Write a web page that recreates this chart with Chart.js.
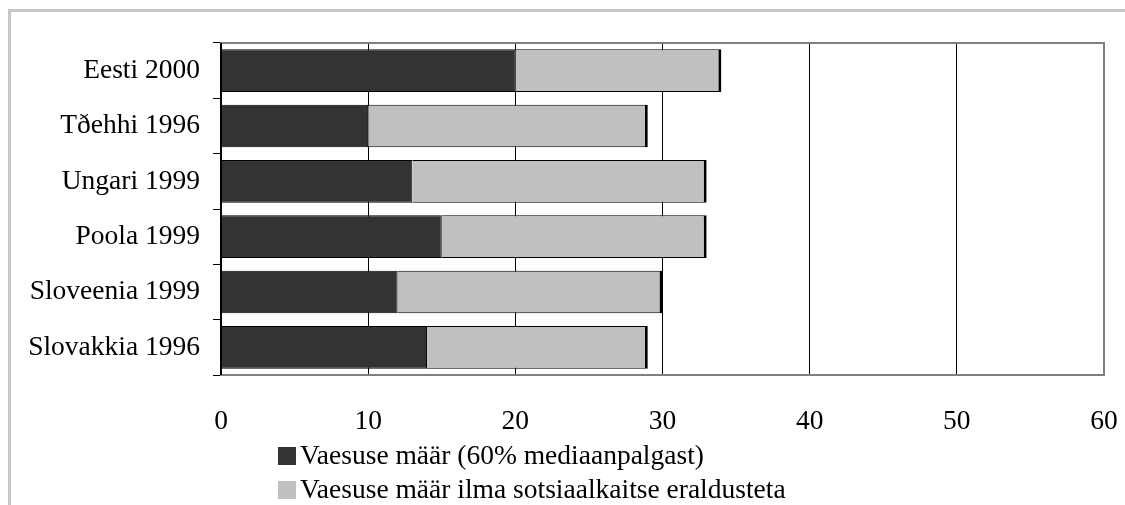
<!DOCTYPE html>
<html>
<head>
<meta charset="utf-8">
<script src="https://cdn.jsdelivr.net/npm/chart.js@4/dist/chart.umd.min.js"></script>
<style>
  html, body { margin: 0; padding: 0; background: #fff; }
  #wrap { position: relative; width: 1125px; height: 505px; overflow: hidden; }
  #frame { position: absolute; left: 8px; top: 9px; width: 1200px; height: 600px;
           border-left: 3px solid #c6c6c6; border-top: 3px solid #c6c6c6; }
  #chart { position: absolute; left: 0; top: 0; }
  .leg { position: absolute; left: 278px; font-family: 'Liberation Serif', 'Times New Roman', serif;
         font-size: 27.5px; color: #000; white-space: nowrap; line-height: 28px; }
  .leg i { display: inline-block; width: 18px; height: 18px; vertical-align: -1px; margin-right: 4px; }
</style>
</head>
<body>
<div id="wrap">
  <div id="frame"></div>
  <canvas id="chart" width="1125" height="505"></canvas>
  <div class="leg" style="top:441px"><i style="background:#333333"></i>Vaesuse määr (60% mediaanpalgast)</div>
  <div class="leg" style="top:475px"><i style="background:#c0c0c0"></i>Vaesuse määr ilma sotsiaalkaitse eraldusteta</div>
</div>
<script>
const categories = ['Eesti 2000', 'Tðehhi 1996', 'Ungari 1999', 'Poola 1999', 'Sloveenia 1999', 'Slovakkia 1996'];
const povertyRate = [20, 10, 13, 15, 12, 14];
const extraWithoutTransfers = [14, 19, 20, 18, 18, 15];
const xTicks = [0, 10, 20, 30, 40, 50, 60];

const seriesNames = ['Vaesuse määr (60% mediaanpalgast)', 'Vaesuse määr ilma sotsiaalkaitse eraldusteta'];
const FONT = "'Liberation Serif', 'Times New Roman', serif";

// Gray frame around the plot area, with the black category axis on the left
const plotFrame = {
  id: 'plotFrame',
  beforeDatasetsDraw(chart) {
    const { ctx, chartArea: a } = chart;
    ctx.save();
    ctx.strokeStyle = '#808080';
    ctx.lineWidth = 2;
    ctx.strokeRect(a.left, a.top, a.right - a.left, a.bottom - a.top);
    ctx.restore();
  },
  afterDatasetsDraw(chart) {
    const { ctx, chartArea: a } = chart;
    ctx.save();
    ctx.strokeStyle = '#000';
    ctx.lineWidth = 2;
    ctx.beginPath();
    ctx.moveTo(a.left, a.top);
    ctx.lineTo(a.left, a.bottom);
    ctx.stroke();
    ctx.restore();
  }
};

new Chart(document.getElementById('chart'), {
  type: 'bar',
  data: {
    labels: categories,
    datasets: [
      {
        label: seriesNames[0],
        data: povertyRate,
        backgroundColor: '#333333',
        borderColor: '#000',
        borderWidth: { top: 1, bottom: 1, left: 0, right: 1 },
        borderSkipped: false,
        categoryPercentage: 1,
        barPercentage: 0.77
      },
      {
        label: seriesNames[1],
        data: extraWithoutTransfers,
        backgroundColor: '#c0c0c0',
        borderColor: '#000',
        borderWidth: { top: 1, bottom: 1, left: 0, right: 3 },
        borderSkipped: false,
        categoryPercentage: 1,
        barPercentage: 0.77
      }
    ]
  },
  options: {
    indexAxis: 'y',
    responsive: false,
    animation: false,
    layout: { padding: { left: 0, right: 21, top: 43, bottom: 0 } },
    plugins: { legend: { display: false }, tooltip: { enabled: false } },
    scales: {
      x: {
        stacked: true,
        min: xTicks[0],
        max: xTicks[xTicks.length - 1],
        afterBuildTicks(scale) { scale.ticks = xTicks.map(v => ({ value: v })); },
        afterFit(scale) {
          scale.height = 130;
          scale.paddingLeft = 0;
          scale.paddingRight = 0;
        },
        grid: {
          color: ctx => (ctx.tick && (ctx.tick.value === 0 || ctx.tick.value === 60)) ? 'rgba(0,0,0,0)' : '#000',
          lineWidth: 1,
          drawTicks: false
        },
        border: { display: false },
        ticks: {
          padding: 30,
          color: '#000',
          font: { family: FONT, size: 27.5 },
          maxRotation: 0
        }
      },
      y: {
        stacked: true,
        afterFit(scale) {
          scale.width = 221;
          scale.paddingTop = 0;
          scale.paddingBottom = 0;
        },
        grid: {
          offset: true,
          drawOnChartArea: false,
          drawTicks: true,
          tickLength: 8,
          color: '#000',
          lineWidth: 1
        },
        border: { display: false },
        ticks: {
          padding: 13,
          color: '#000',
          font: { family: FONT, size: 27.5 }
        }
      }
    }
  },
  plugins: [plotFrame]
});
</script>
</body>
</html>
